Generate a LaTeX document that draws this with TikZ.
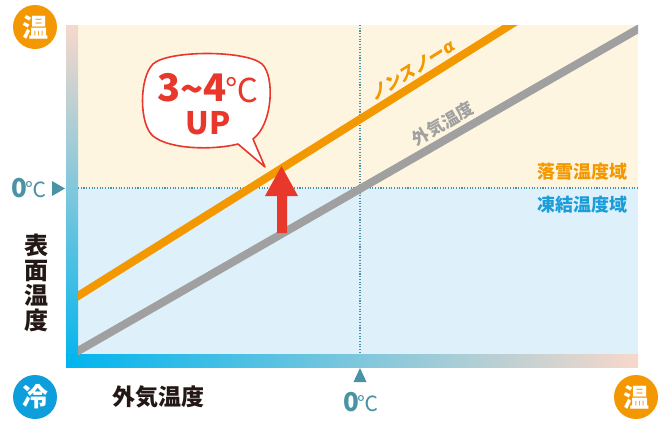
\documentclass[tikz,border=0pt]{standalone}
\usepackage{fontspec}
\setmainfont{Noto Sans CJK JP}
\newfontfamily\jpslant{Noto Sans CJK JP}[FakeSlant=0.22]
\newfontfamily\grslant{DejaVu Sans}[FakeSlant=0.12]
\usetikzlibrary{calc}
\definecolor{cOrange}{HTML}{F39800}
\definecolor{cGray}{HTML}{A0A0A0}
\definecolor{cRed}{HTML}{E8382B}
\definecolor{cTeal}{HTML}{4A93A5}
\definecolor{cBlueTxt}{HTML}{1A9DD9}
\definecolor{cCircBlue}{HTML}{0F9EDC}
\definecolor{cYellowBg}{HTML}{FDF5E0}
\definecolor{cBlueBg}{HTML}{DEF0FA}
\definecolor{cPink}{HTML}{F7D8CB}
\definecolor{cMid}{HTML}{AFCBD8}
\definecolor{cCyan}{HTML}{00B5EE}
\definecolor{cDark}{HTML}{231815}
\tikzset{
  dotline/.style={cTeal, line width=1.1pt, dash pattern=on 1.1pt off 1.6pt},
  plotline/.style={line width=8pt},
  badge/.style={circle, minimum size=44pt, inner sep=0pt, text=white,
    font=\fontsize{26}{26}\selectfont\bfseries},
  lbl/.style={inner sep=0pt, font=\bfseries},
}
\begin{document}
\begin{tikzpicture}[x=1pt,y=-1pt]
\useasboundingbox (0,0) rectangle (665,421);
% backgrounds
\fill[cYellowBg] (78,25) rectangle (638,188);
\fill[cBlueBg] (78,188) rectangle (638,354);
% dotted guides
\coordinate (hL) at (78,188);
\coordinate (hR) at (638,188);
\coordinate (vT) at (360,25);
\coordinate (vB) at (360,354);
\draw[dotline] (hL) -- (hR);
\draw[dotline] (vT) -- (vB);
% axis bars
\shade[top color=cPink, middle color=cMid, bottom color=cCyan] (66,25) rectangle (78,367);
\shade[left color=cCyan, middle color=cMid, right color=cPink] (66,354) rectangle (638,367);
% plot lines
\coordinate (o1) at (70,301);
\coordinate (o2) at (520,18.9);
\coordinate (g1) at (70,355.6);
\coordinate (g2) at (646,24.4);
\begin{scope}
\clip (78,25) rectangle (638,354);
\draw[plotline, cGray] (g1) -- (g2);
\draw[plotline, cOrange] (o1) -- (o2);
\end{scope}
% red arrow
\coordinate (a1) at (277,233);
\coordinate (a2) at (277,196);
\coordinate (a3) at (265,196);
\coordinate (tip) at (281.5,166);
\coordinate (a5) at (298,196);
\coordinate (a6) at (287,196);
\coordinate (a7) at (287,233);
\fill[cRed] (a1) -- (a2) -- (a3) -- (tip) -- (a5) -- (a6) -- (a7) -- cycle;
% speech bubble
\coordinate (t1) at (238,144);
\coordinate (bt) at (265,167);
\coordinate (t2) at (253,139);
\draw[cRed, line width=1.6pt, fill=white, line join=round]
  (t1) -- (bt) -- (t2)
  .. controls (273,124) and (275,76) .. (262,64)
  .. controls (246,50) and (168,50) .. (153,64)
  .. controls (139,78) and (139,124) .. (153,136)
  .. controls (170,150) and (215,150) .. (t1) -- cycle;
\node[lbl, text=cRed] (num) at (208,88)
  {\fontsize{38}{38}\selectfont 3\raisebox{-2pt}{\textasciitilde}4\hspace{-1pt}\fontsize{33}{33}\selectfont\mdseries\raisebox{-1pt}{℃}};
\node[lbl, text=cRed, font=\fontsize{31}{31}\selectfont\bfseries] (up) at (208,123) {UP};
% line labels
\node[inner sep=0pt, text=cOrange, rotate=32, font=\fontsize{17}{17}\selectfont\jpslant\bfseries] (nsa) at (412,70) {ノンスノー\hspace{1pt}{\grslant\bfseries\fontsize{17}{17}\selectfont α}};
\node[inner sep=0pt, text=cGray, rotate=30, font=\fontsize{17}{17}\selectfont\bfseries] (gai) at (443,124) {外気温度};
% zone labels
\node[lbl, anchor=east, text=cOrange, font=\fontsize{18}{18}\selectfont\bfseries] (rak) at (628,172) {落雪温度域};
\node[lbl, anchor=east, text=cBlueTxt, font=\fontsize{18}{18}\selectfont\bfseries] (tok) at (628,205) {凍結温度域};
% 0 C markers
\node[lbl, text=cTeal] (zl) at (29,188) {\fontsize{26}{26}\selectfont 0\hspace{-1pt}\fontsize{21}{21}\selectfont\mdseries ℃};
\coordinate (tl1) at (52,181);
\coordinate (tl2) at (52,196);
\coordinate (tl3) at (65,188.5);
\fill[cTeal] (tl1) -- (tl2) -- (tl3) -- cycle;
\coordinate (tb1) at (353.5,382);
\coordinate (tb2) at (366.5,382);
\coordinate (tb3) at (360,368);
\fill[cTeal] (tb1) -- (tb2) -- (tb3) -- cycle;
\node[lbl, text=cTeal] (zb) at (361,402) {\fontsize{26}{26}\selectfont 0\hspace{-1pt}\fontsize{21}{21}\selectfont\mdseries ℃};
% axis titles
\node[lbl, text=cDark, align=center, font=\fontsize{24}{25}\selectfont\bfseries] (ytitle) at (36,283) {表\\面\\温\\度};
\node[lbl, text=cDark, font=\fontsize{23}{23}\selectfont\bfseries] (xtitle) at (158,397) {外気温度};
% badges
\node[badge, fill=cOrange] (hotTop) at (35,27) {温};
\node[badge, fill=cCircBlue] (cold) at (35,397) {冷};
\node[badge, fill=cOrange] (hotBot) at (636,397) {温};
\end{tikzpicture}
\end{document}
